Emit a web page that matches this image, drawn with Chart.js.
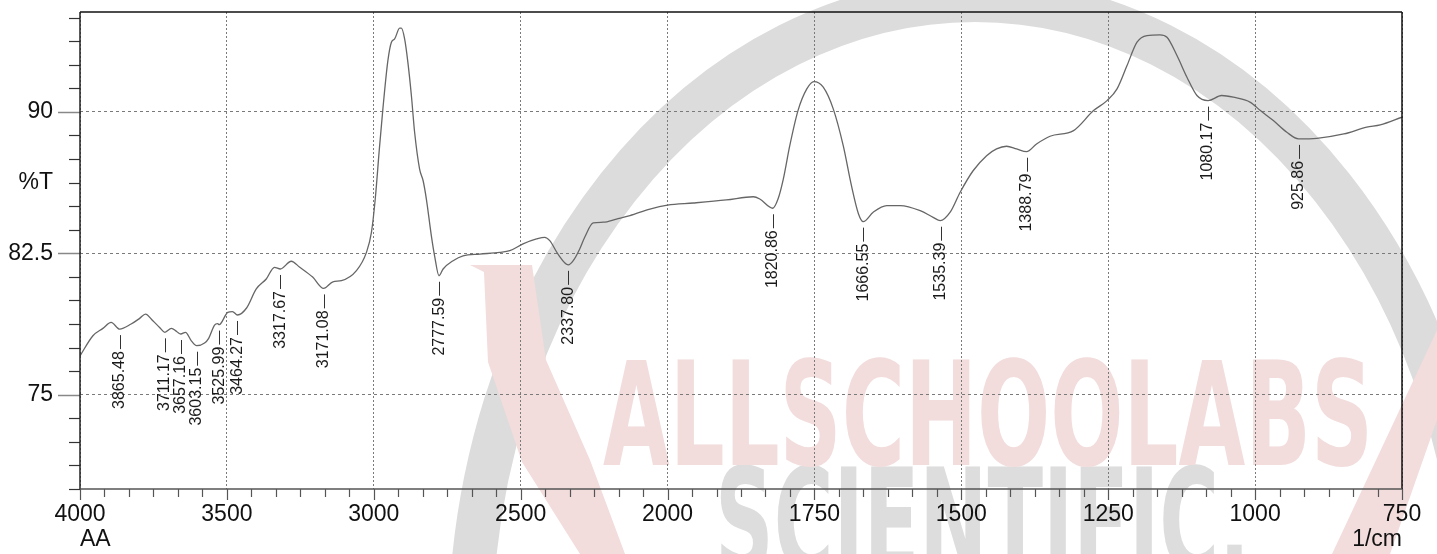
<!DOCTYPE html>
<html>
<head>
<meta charset="utf-8">
<title>FTIR spectrum</title>
<script src="https://cdn.jsdelivr.net/npm/chart.js@4.4.1/dist/chart.umd.min.js"></script>
<style>
  html, body { margin: 0; padding: 0; background: #fff; }
  #wrap { width: 1437px; height: 554px; }
</style>
</head>
<body>
<div id="wrap"><canvas id="irChart" width="1437" height="554"></canvas></div>
<script>
// spectrum (1/cm, %T)
const wavenumbers = [
  4000, 3956, 3922, 3894, 3865, 3826, 3797, 3777, 3752, 3729, 3711, 3689, 3670, 3657, 3641, 3621,
  3603, 3576, 3562, 3542, 3532, 3526, 3497, 3481, 3464, 3433, 3400, 3366, 3338, 3318, 3281, 3252,
  3208, 3171, 3139, 3110, 3059, 3025, 3008, 2995, 2981, 2969, 2952, 2940, 2929, 2912, 2906, 2895,
  2884, 2872, 2861, 2844, 2832, 2821, 2804, 2793, 2778, 2764, 2730, 2696, 2639, 2571, 2537, 2492,
  2446, 2418, 2401, 2373, 2338, 2321, 2299, 2282, 2253, 2219, 2174, 2128, 2060, 2000, 1956, 1900,
  1854, 1843, 1821, 1812, 1803, 1792, 1778, 1763, 1751, 1735, 1718, 1701, 1687, 1675, 1667, 1650,
  1627, 1604, 1570, 1548, 1536, 1519, 1502, 1480, 1457, 1440, 1423, 1406, 1389, 1372, 1349, 1309,
  1275, 1252, 1235, 1218, 1201, 1184, 1162, 1150, 1133, 1116, 1099, 1080, 1057, 1037, 1008, 991,
  969, 946, 926, 895, 849, 810, 787, 750
];
const transmittance = [
  77.06, 78.13, 78.52, 78.84, 78.48, 78.75, 79.05, 79.28, 78.92, 78.57, 78.31, 78.52, 78.34, 78.22, 78.31, 77.86,
  77.60, 77.74, 77.99, 78.69, 78.77, 78.72, 79.37, 79.41, 79.23, 79.60, 80.61, 81.14, 81.76, 81.67, 82.08, 81.76,
  81.24, 80.64, 80.99, 81.05, 81.58, 82.55, 83.61, 85.38, 88.04, 90.16, 92.72, 93.70, 93.87, 94.44, 94.44, 93.87,
  92.64, 90.87, 88.92, 86.97, 86.35, 85.38, 83.43, 82.37, 81.31, 81.67, 82.11, 82.37, 82.46, 82.55, 82.64, 83.00,
  83.26, 83.35, 83.17, 82.46, 81.89, 82.11, 82.73, 83.35, 84.11, 84.15, 84.32, 84.50, 84.85, 85.06, 85.17, 85.33,
  85.50, 85.38, 84.89, 85.38, 86.44, 88.21, 90.07, 91.22, 91.61, 91.31, 90.16, 88.21, 86.09, 84.59, 84.18, 84.68,
  85.03, 85.03, 84.76, 84.41, 84.23, 84.68, 85.74, 86.88, 87.68, 88.04, 88.18, 88.04, 87.89, 88.30, 88.71, 89.01,
  90.07, 90.60, 91.22, 92.46, 93.70, 94.05, 94.09, 93.96, 92.99, 91.84, 90.87, 90.60, 90.87, 90.78, 90.51, 90.07,
  89.54, 88.92, 88.57, 88.60, 88.83, 89.19, 89.31, 89.72
];

// picked peaks
const peakWavenumbers = [3865.48, 3711.17, 3657.16, 3603.15, 3525.99, 3464.27, 3317.67, 3171.08,
  2777.59, 2337.80, 1820.86, 1666.55, 1535.39, 1388.79, 1080.17, 925.86];
const peakTransmittance = [78.48, 78.31, 78.22, 77.60, 78.72, 79.23, 81.67, 80.64,
  81.31, 81.89, 84.89, 84.18, 84.23, 87.89, 90.60, 88.57];

const xTickLabels = [4000, 3500, 3000, 2500, 2000, 1750, 1500, 1250, 1000, 750];
const yTickLabels = [75, 82.5, 90];
const yAxisTitle = '%T';
const xAxisLeftNote = 'AA';
const xAxisUnit = '1/cm';

const FONT = 'Arial, "Liberation Sans", sans-serif';

// the instrument doubles the scale below 2000 1/cm
function toAxis(w) {
  return w >= 2000 ? 4000 - w : 2000 + (2000 - w) * 2;
}

const isMajorY = v => yTickLabels.some(t => Math.abs(t - v) < 1e-6);

// faint background logo of the original print
const watermark = {
  id: 'watermark',
  beforeDraw(chart) {
    const ctx = chart.ctx;
    ctx.save();
    ctx.strokeStyle = '#dcdcdc';
    ctx.lineWidth = 44;
    ctx.beginPath();
    ctx.ellipse(975, 640, 505, 640, 0, 0, Math.PI * 2);
    ctx.stroke();

    ctx.fillStyle = '#f2dcdc';
    ctx.beginPath();
    ctx.moveTo(470, 265); ctx.lineTo(532, 265); ctx.lineTo(546, 360); ctx.lineTo(590, 460);
    ctx.lineTo(625, 554); ctx.lineTo(580, 554); ctx.lineTo(522, 462); ctx.lineTo(488, 362);
    ctx.lineTo(484, 272); ctx.closePath(); ctx.fill();
    ctx.beginPath();
    ctx.moveTo(1332, 554); ctx.lineTo(1437, 330); ctx.lineTo(1437, 420); ctx.lineTo(1390, 554);
    ctx.closePath(); ctx.fill();

    const drawWord = (txt, x, base, w, h, color) => {
      ctx.save();
      ctx.font = 'bold 100px "DejaVu Sans Condensed", "DejaVu Sans", sans-serif';
      const m = ctx.measureText(txt);
      ctx.translate(x, base);
      ctx.scale(w / m.width, h / 73);
      ctx.fillStyle = color;
      ctx.textBaseline = 'alphabetic';
      ctx.fillText(txt, 0, 0);
      ctx.restore();
    };
    drawWord('SCIENTIFIC.', 715, 572, 535, 106, '#dddddd');
    drawWord('ALLSCHOOLABS', 603, 465, 770, 105, '#f2dcdc');
    ctx.restore();
  }
};

// tick marks, frame, peak labels, axis notes
const decorations = {
  id: 'decorations',
  afterDraw(chart) {
    const ctx = chart.ctx;
    const { left, right, top, bottom } = chart.chartArea;
    const xs = chart.scales.x;
    const ys = chart.scales.y;
    ctx.save();

    const line = (x1, y1, x2, y2, color, w) => {
      ctx.strokeStyle = color;
      ctx.lineWidth = w;
      ctx.beginPath();
      ctx.moveTo(x1, y1);
      ctx.lineTo(x2, y2);
      ctx.stroke();
    };

    xs.ticks.forEach((t, i) => {
      const px = Math.round(xs.getPixelForValue(t.value)) + 0.5;
      line(px, bottom, px, bottom + (i % 6 === 0 ? 11 : 8), '#555', 1.2);
    });
    ys.ticks.forEach(t => {
      const py = Math.round(ys.getPixelForValue(t.value)) + 0.5;
      if (isMajorY(t.value)) line(left - 22, py, left, py, '#888', 1.5);
      else line(left - 11, py, left, py, '#333', 1.2);
    });

    // frame
    line(left, top, right, top, '#111', 1.5);
    line(right, top, right, bottom, '#111', 1.5);
    line(left, top, left, bottom, '#222', 1.5);
    line(left, bottom, right, bottom, '#555', 1.5);

    // peak labels
    ctx.font = '16px ' + FONT;
    ctx.fillStyle = '#1a1a1a';
    ctx.textAlign = 'right';
    ctx.textBaseline = 'middle';
    peakWavenumbers.forEach((w, i) => {
      const px = xs.getPixelForValue(toAxis(w));
      const py = ys.getPixelForValue(peakTransmittance[i]);
      line(Math.round(px) + 0.5, py + 6, Math.round(px) + 0.5, py + 20, '#333', 1);
      ctx.save();
      ctx.translate(px, py + 22);
      ctx.rotate(-Math.PI / 2);
      ctx.fillText(w.toFixed(2), 0, 0);
      ctx.restore();
    });

    ctx.font = '23px ' + FONT;
    ctx.fillStyle = '#111';
    ctx.textBaseline = 'middle';
    ctx.textAlign = 'left';
    ctx.fillText(xAxisLeftNote, left, 540);
    ctx.textAlign = 'right';
    ctx.fillText(xAxisUnit, right, 540);
    ctx.restore();
  }
};

const xTickValues = [];
for (let i = 0; i <= (xTickLabels.length - 1) * 6; i++) xTickValues.push(i * 500 / 6);
const yTickValues = [];
for (let i = 0; i <= 20; i++) yTickValues.push(70 + i * 1.25);

const ctx = document.getElementById('irChart').getContext('2d');
new Chart(ctx, {
  type: 'line',
  data: {
    datasets: [{
      data: wavenumbers.map((w, i) => ({ x: toAxis(w), y: transmittance[i] })),
      borderColor: '#666',
      borderWidth: 1.3,
      pointRadius: 0,
      fill: false,
      cubicInterpolationMode: 'monotone'
    }]
  },
  options: {
    responsive: false,
    animation: false,
    events: [],
    layout: { padding: { top: 12, right: 35, left: 0, bottom: 0 } },
    plugins: {
      legend: { display: false },
      tooltip: { enabled: false }
    },
    scales: {
      x: {
        type: 'linear',
        min: 0,
        max: 4500,
        afterBuildTicks: s => { s.ticks = xTickValues.map(v => ({ value: v })); },
        afterFit: s => { s.height = 65; },
        border: { display: false, dash: [2, 2] },
        grid: {
          drawTicks: false,
          lineWidth: 1,
          color: c => (c.index % 6 === 0 ? '#7a7a7a' : 'rgba(0,0,0,0)')
        },
        ticks: {
          autoSkip: false,
          maxRotation: 0,
          minRotation: 0,
          padding: 12,
          color: '#111',
          font: { family: FONT, size: 23 },
          callback: (v, i) => (i % 6 === 0 ? String(xTickLabels[i / 6]) : '')
        }
      },
      y: {
        min: 70,
        max: 95.3,
        afterBuildTicks: s => { s.ticks = yTickValues.map(v => ({ value: v })); },
        afterFit: s => { s.width = 80; },
        border: { display: false, dash: [3, 3] },
        grid: {
          drawTicks: true,
          tickLength: 27,
          tickColor: 'rgba(0,0,0,0)',
          lineWidth: 1,
          color: c => (c.tick && isMajorY(c.tick.value) ? '#7a7a7a' : 'rgba(0,0,0,0)')
        },
        ticks: {
          autoSkip: false,
          padding: 0,
          color: '#111',
          font: { family: FONT, size: 23, lineHeight: 1 },
          callback: v => {
            if (isMajorY(v)) return String(v);
            if (Math.abs(v - 86.25) < 1e-6) return yAxisTitle;
            return '';
          }
        }
      }
    }
  },
  plugins: [watermark, decorations]
});
</script>
</body>
</html>
